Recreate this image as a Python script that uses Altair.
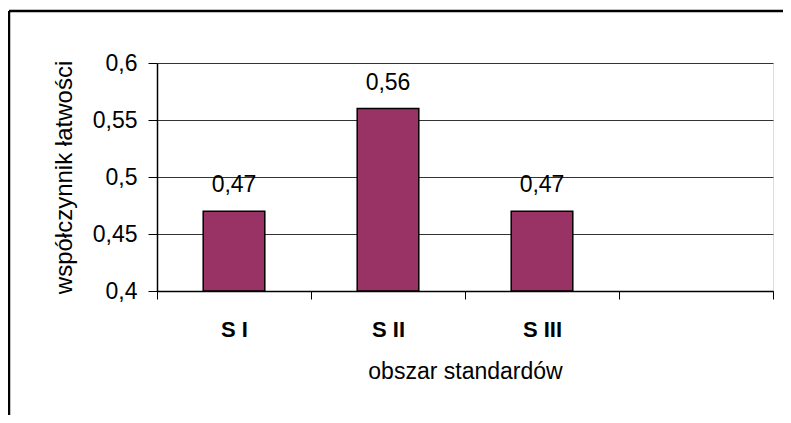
import altair as alt
import pandas as pd

categories = ["S I", "S II", "S III", ""]
values = [0.47, 0.56, 0.47, None]
labels = ["0,47", "0,56", "0,47", ""]

df = pd.DataFrame({"obszar": categories, "wsp": values, "lab": labels})
bars_df = df.dropna()

FONT = "Liberation Sans"
W, H = 616, 228

x = alt.X("obszar:N", sort=categories,
          scale=alt.Scale(domain=categories, paddingInner=0, paddingOuter=0),
          axis=alt.Axis(title="obszar standardów", tickBand="extent", labelAngle=0,
                        labelFontWeight="bold", labelFontSize=22, labelPadding=20,
                        labelFont=FONT, titleFont=FONT,
                        titleFontSize=23, titleFontWeight="normal", titlePadding=20,
                        tickSize=8, domainColor="black", tickColor="black", domainWidth=1.5,
                        labelColor="black", titleColor="black", grid=False))
y = alt.Y("wsp:Q",
          scale=alt.Scale(domain=[0.4, 0.6], nice=False, zero=False),
          axis=alt.Axis(title="współczynnik łatwości", values=[0.4, 0.45, 0.5, 0.55, 0.6],
                        labelExpr="replace(format(datum.value, '.2~f'), '.', ',')",
                        labelFont=FONT, titleFont=FONT,
                        labelFontSize=23, labelPadding=11, tickSize=9,
                        titleFontSize=24, titleFontWeight="normal", titlePadding=16,
                        domainColor="black", tickColor="black", domainWidth=1.5,
                        labelColor="black", titleColor="black",
                        grid=True, gridColor="#333333", gridWidth=1, gridOpacity=1))

bars = alt.Chart(bars_df).mark_bar(
    color="#993366", stroke="black", strokeWidth=1.5,
    width=alt.RelativeBandSize(0.4)
).encode(x=x, y=y, y2=alt.datum(0.4))

text = alt.Chart(bars_df).mark_text(
    font=FONT, fontSize=23, baseline="alphabetic", dy=-19, color="black"
).encode(x=alt.X("obszar:N", sort=categories, scale=alt.Scale(domain=categories)),
         y=alt.Y("wsp:Q"), text="lab:N")

frame_df = pd.DataFrame({"f": [0]})
frame_top = alt.Chart(frame_df).mark_rule(color="black", strokeWidth=2.5, clip=False).encode(
    x=alt.value(-148), x2=alt.value(630), y=alt.value(-52))
frame_left = alt.Chart(frame_df).mark_rule(color="black", strokeWidth=2.5, clip=False).encode(
    x=alt.value(-148), y=alt.value(-52), y2=alt.value(380))

chart = alt.layer(frame_top, frame_left, bars, text).properties(
    width=W, height=H,
    autosize=alt.AutoSizeParams(type="none"),
    padding={"left": 149, "top": 55, "right": 10, "bottom": 124},
).configure_view(stroke=None).configure(font=FONT)

chart.save("out.html", embed_options={"renderer": "svg", "actions": False})
